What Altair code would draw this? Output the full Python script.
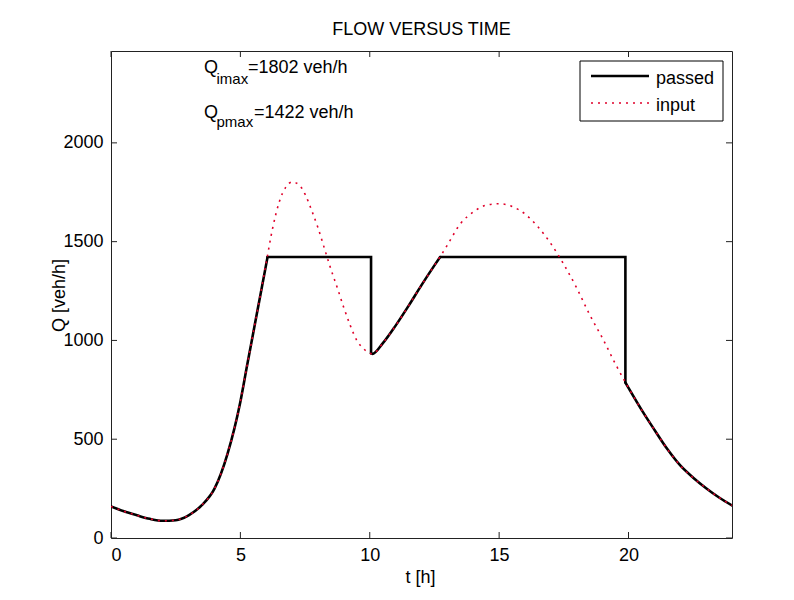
import altair as alt
import pandas as pd

# ---- data ----
t_input = [0.0, 0.5, 1.0, 1.5, 2.0, 2.5, 3.0, 3.5, 4.0, 4.5, 5.0, 5.25, 5.5, 5.75, 6.0,
           6.25, 6.5, 6.75, 7.0, 7.25, 7.5, 7.75, 8.0, 8.25, 8.5, 8.75, 9.0, 9.25, 9.5,
           9.75, 10.0, 10.1, 10.5, 11.0, 11.5, 12.0, 12.5, 12.75, 13.0, 13.5, 14.0, 14.5,
           15.0, 15.5, 16.0, 16.5, 17.0, 17.5, 18.0, 18.5, 19.0, 19.5, 20.0, 20.5, 21.0,
           21.5, 22.0, 22.5, 23.0, 23.5, 24.0]
q_input = [160, 135, 115, 97, 87, 90, 115, 165, 250, 425, 690, 867, 1040, 1214, 1395,
           1570, 1700, 1775, 1802, 1790, 1740, 1660, 1570, 1465, 1360, 1265, 1165, 1075, 1000,
           960, 935, 932, 985, 1075, 1175, 1280, 1380, 1430, 1483, 1590, 1650, 1685,
           1692, 1678, 1640, 1575, 1490, 1385, 1265, 1130, 1010, 880, 760, 650, 548,
           450, 367, 305, 252, 205, 165]

# passed flow, split into pieces: curved pieces follow the demand, straight pieces are the cap
t_passed = [0.0, 0.5, 1.0, 1.5, 2.0, 2.5, 3.0, 3.5, 4.0, 4.5, 5.0, 5.25, 5.5, 5.75, 6.05,
            6.05, 10.05, 10.05,
            10.05, 10.1, 10.5, 11.0, 11.5, 12.0, 12.5, 12.72,
            12.72, 19.88, 19.88,
            19.88, 20.0, 20.5, 21.0, 21.5, 22.0, 22.5, 23.0, 23.5, 24.0]
q_passed = [160, 135, 115, 97, 87, 90, 115, 165, 250, 425, 690, 867, 1040, 1214, 1422,
            1422, 1422, 935,
            935, 932, 985, 1075, 1175, 1280, 1380, 1422,
            1422, 1422, 787,
            787, 760, 650, 548, 450, 367, 305, 252, 205, 165]
piece_passed = [0] * 15 + [1] * 3 + [2] * 8 + [3] * 3 + [4] * 10
curved_pieces = [0, 2, 4]

x_ticks = [0, 5, 10, 15, 20]
y_ticks = [0, 500, 1000, 1500, 2000]

series_names = ["passed", "input"]
title_text = "FLOW VERSUS TIME"
x_title = "t [h]"
y_title = "Q [veh/h]"
ann_sub = ["imax", "pmax"]
ann_val = ["=1802 veh/h", "=1422 veh/h"]

# ---- layout ----
W, H = 621, 487
FONT = "Liberation Sans"
FS = 18
RED = "#e0002a"

df_in = pd.DataFrame({"t": t_input, "q": q_input, "i": range(len(t_input))})
df_pass = pd.DataFrame({"t": t_passed, "q": q_passed, "p": piece_passed,
                        "i": range(len(t_passed))})
df_xt = pd.DataFrame({"t": x_ticks})
df_yt = pd.DataFrame({"q": y_ticks})
one = pd.DataFrame({"a": [0]})

xs = alt.Scale(domain=[0, 24], nice=False, zero=False)
ys = alt.Scale(domain=[0, 2465], nice=False, zero=False)

ax_x = alt.Axis(values=x_ticks, title=None, orient="bottom", format="d")
ax_y = alt.Axis(values=y_ticks, title=None, orient="left", format="d")

df_curved = df_pass[df_pass["p"].isin(curved_pieces)]
df_flat = df_pass[~df_pass["p"].isin(curved_pieces)]

passed_curved = alt.Chart(df_curved).mark_line(
    color="black", strokeWidth=2.6, clip=True, interpolate="monotone", strokeCap="round").encode(
    x=alt.X("t:Q", scale=xs, axis=ax_x),
    y=alt.Y("q:Q", scale=ys, axis=ax_y),
    detail="p:N",
    order="i:Q",
)
passed_flat = alt.Chart(df_flat).mark_line(
    color="black", strokeWidth=2.6, clip=True, strokeCap="round").encode(
    x=alt.X("t:Q", scale=xs),
    y=alt.Y("q:Q", scale=ys),
    detail="p:N",
    order="i:Q",
)
inp = alt.Chart(df_in).mark_line(
    color=RED, strokeWidth=1.6, strokeDash=[2, 5], clip=True, interpolate="monotone").encode(
    x=alt.X("t:Q", scale=xs),
    y=alt.Y("q:Q", scale=ys),
    order="i:Q",
)

TK = 6
tick_col = "#222222"
xt_bot = alt.Chart(df_xt).mark_rule(color=tick_col, strokeWidth=1).encode(
    x=alt.X("t:Q", scale=xs), y=alt.value(H), y2=alt.value(H - TK))
xt_top = alt.Chart(df_xt).mark_rule(color=tick_col, strokeWidth=1).encode(
    x=alt.X("t:Q", scale=xs), y=alt.value(0), y2=alt.value(TK))
yt_left = alt.Chart(df_yt).mark_rule(color=tick_col, strokeWidth=1).encode(
    y=alt.Y("q:Q", scale=ys), x=alt.value(0), x2=alt.value(TK))
yt_right = alt.Chart(df_yt).mark_rule(color=tick_col, strokeWidth=1).encode(
    y=alt.Y("q:Q", scale=ys), x=alt.value(W), x2=alt.value(W - TK))

def txt(s, x, y, size=FS, align="left", angle=0, baseline="middle"):
    return alt.Chart(one).mark_text(
        text=s, font=FONT, fontSize=size, align=align, baseline=baseline,
        angle=angle, color="black").encode(x=alt.value(x), y=alt.value(y))

title = txt(title_text, W / 2, -21, align="center")
xtitle = txt(x_title, W / 2 - 1, 527, align="center")
ytitle = txt(y_title, -51, H / 2 + 1, align="center", angle=270)

ann = [
    txt("Q", 93, 17), txt(ann_sub[0], 105.5, 28, size=15), txt(ann_val[0], 137, 17),
    txt("Q", 93, 62), txt(ann_sub[1], 105.5, 71, size=15), txt(ann_val[1], 143, 62),
]

leg_box = alt.Chart(one).mark_rect(fill="white", stroke="black", strokeWidth=1).encode(
    x=alt.value(469), x2=alt.value(612), y=alt.value(10), y2=alt.value(70))
leg_l1 = alt.Chart(one).mark_rule(color="black", strokeWidth=2.6).encode(
    x=alt.value(480), x2=alt.value(538), y=alt.value(25))
leg_l2 = alt.Chart(one).mark_rule(color=RED, strokeWidth=1.6, strokeDash=[2, 5]).encode(
    x=alt.value(480), x2=alt.value(538), y=alt.value(52))
leg_t1 = txt(series_names[0], 545, 28)
leg_t2 = txt(series_names[1], 545, 55)

chart = alt.layer(
    passed_curved, passed_flat, inp, xt_bot, xt_top, yt_left, yt_right,
    title, xtitle, ytitle, *ann,
    leg_box, leg_l1, leg_l2, leg_t1, leg_t2,
).properties(
    width=W, height=H,
    padding={"left": 103, "top": 43, "right": 46, "bottom": 54},
    autosize=alt.AutoSizeParams(type="none"),
    background="white",
).configure_view(
    stroke="#222222", strokeWidth=1
).configure_axis(
    grid=False, domain=False, ticks=False, tickSize=0,
    labelFont=FONT, labelFontSize=FS, labelColor="black", labelPadding=8,
)

chart.save("out.html", embed_options={"renderer": "svg", "actions": False})
